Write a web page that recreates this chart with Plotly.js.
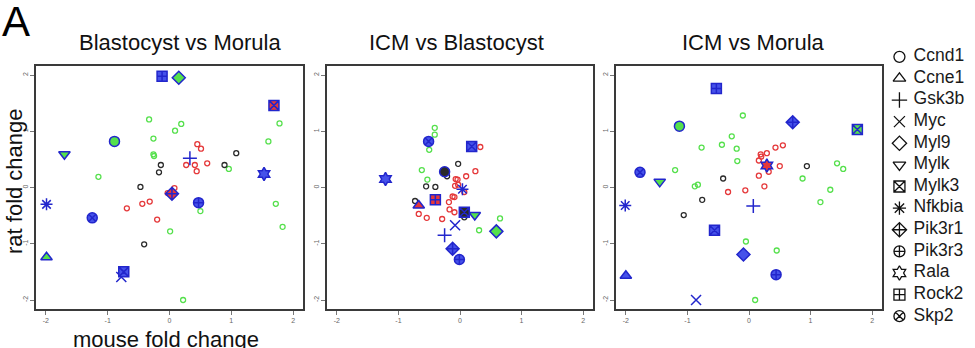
<!DOCTYPE html>
<html><head><meta charset="utf-8">
<script src="https://cdn.plot.ly/plotly-3.0.1.min.js"></script>
<style>html,body{margin:0;padding:0;background:#fff}#c{width:975px;height:348px}</style>
</head><body><div id="c"></div>
<script>
// ---------- data ----------
const panelTitles = ['Blastocyst vs Morula', 'ICM vs Blastocyst', 'ICM vs Morula'];
const tickVals = [-2, -1, 0, 1, 2];
const tickText = ['-2', '-1', '0', '1', '2'];

const genes = ['Ccnd1','Ccne1','Gsk3b','Myc','Myl9','Mylk','Mylk3','Nfkbia','Pik3r1','Pik3r3','Rala','Rock2','Skp2'];
const geneSymbols = ['circle-open','triangle-up-open','cross-thin-open','x-thin-open','diamond-open','triangle-down-open',
  'square-x-open','asterisk-open','diamond-cross-open','circle-cross-open','hexagram-open','square-cross-open','circle-x-open'];
// symbols used for the highlighted (blue) markers inside panels; last entry = unlabelled square
const markSymbols = ['circle','triangle-up','cross-thin-open','x-thin-open','diamond','triangle-down',
  'square-x','asterisk-open','diamond-cross','circle-cross','hexagram','square-cross','circle-x','square-x'];

// Panel 1: Blastocyst vs Morula
const p1GreenX = [-0.33,0.19,0.09,-0.26,-0.26,-0.25,-1.15,1.78,1.60,0.96,1.72,1.83,0.50,0.01,0.22];
const p1GreenY = [1.21,1.13,1.01,0.87,0.59,0.56,0.19,1.14,0.82,0.33,-0.29,-0.70,-0.42,-0.78,-2.00];
const p1RedX = [0.45,0.51,0.27,0.41,0.61,0.44,0.08,-0.03,-0.32,-0.44,-0.69,-0.20];
const p1RedY = [0.77,0.69,0.40,0.40,0.43,0.29,-0.01,-0.10,-0.25,-0.29,-0.37,-0.57];
const p1BlackX = [-0.14,-0.17,-0.47,-0.41,1.08,0.89];
const p1BlackY = [0.40,0.27,0.01,-1.01,0.61,0.40];
const p1MarkX = [-0.89,-1.99,0.33,-0.78,0.15,-1.70,-0.74,-1.99,0.04,0.47,1.53,-0.12,-1.25,1.69];
const p1MarkY = [0.82,-1.24,0.52,-1.59,1.95,0.59,-1.50,-0.30,-0.11,-0.27,0.24,1.98,-0.54,1.46];
const p1MarkFill = ['green','green','blue','blue','green','green','blue','blue','red','blue','blue','blue','blue','red'];

// Panel 2: ICM vs Blastocyst
const p2GreenX = [-0.41,-0.41,-0.50,-0.62,-0.53,0.65,0.31];
const p2GreenY = [1.06,0.94,0.67,0.31,0.14,-0.55,-0.76];
const p2RedX = [0.33,0.25,0.10,-0.07,-0.04,-0.08,-0.03,0.07,-0.12,-0.09,-0.18,-0.17,-0.09,-0.67,-0.54,-0.29];
const p2RedY = [0.72,0.29,0.20,0.15,0.14,0.03,0.05,-0.08,-0.16,-0.17,-0.26,-0.39,-0.44,-0.47,-0.54,-0.56];
const p2BlackX = [-0.03,-0.21,-0.55,-0.40,-0.73,0.07,0.16];
const p2BlackY = [0.42,0.20,0.02,0.01,-0.24,-0.53,0.70];
const p2MarkX = [-0.25,-0.67,-0.25,-0.08,0.59,0.24,0.19,0.04,-0.12,-0.01,-1.21,-0.40,-0.51,0.07];
const p2MarkY = [0.28,-0.32,-0.85,-0.67,-0.78,-0.49,0.73,-0.03,-1.09,-1.28,0.15,-0.22,0.82,-0.44];
const p2MarkFill = ['black','red','blue','blue','green','green','blue','blue','blue','blue','blue','red','blue','black'];

// Panel 3: ICM vs Morula
const p3GreenX = [-0.10,-0.28,-0.44,-0.77,-0.20,-0.19,-1.20,-0.83,-0.88,1.43,1.53,0.87,1.32,1.16,-0.05,0.45,0.10];
const p3GreenY = [1.28,0.91,0.76,0.71,0.69,0.47,0.31,0.05,0.02,0.43,0.33,0.16,-0.04,-0.26,-0.96,-1.12,-2.00];
const p3RedX = [0.55,0.43,0.29,0.19,0.20,0.16,0.50,0.32,0.16,0.25,-0.06,-0.34];
const p3RedY = [0.75,0.71,0.61,0.59,0.55,0.48,0.38,0.28,0.21,0.02,-0.05,-0.08];
const p3BlackX = [-0.42,0.94,-0.76,-1.06];
const p3BlackY = [0.16,0.38,-0.22,-0.49];
const p3MarkX = [-1.13,-2.00,0.07,-0.86,-0.09,-1.45,-0.56,-2.01,0.71,0.44,0.29,-0.53,-1.77,1.76];
const p3MarkY = [1.09,-1.57,-0.33,-2.00,-1.19,0.10,-0.76,-0.32,1.16,-1.55,0.39,1.76,0.27,1.03];
const p3MarkFill = ['green','blue','blue','blue','blue','green','blue','blue','blue','blue','red','blue','blue','green'];

// ---------- styling ----------
const FONT = 'Liberation Sans, Arial, sans-serif';
const COL = {green:'#55e04c', red:'#e5383a', black:'#2a2a2a', blue:'#4652ea'};
const BLUE_LINE = '#2226cc';

const panels = [
  {g:[p1GreenX,p1GreenY], r:[p1RedX,p1RedY], b:[p1BlackX,p1BlackY], m:[p1MarkX,p1MarkY,p1MarkFill]},
  {g:[p2GreenX,p2GreenY], r:[p2RedX,p2RedY], b:[p2BlackX,p2BlackY], m:[p2MarkX,p2MarkY,p2MarkFill]},
  {g:[p3GreenX,p3GreenY], r:[p3RedX,p3RedY], b:[p3BlackX,p3BlackY], m:[p3MarkX,p3MarkY,p3MarkFill]}
];

const traces = [];
panels.forEach((p, i) => {
  const xa = i === 0 ? 'x' : 'x' + (i + 1);
  const ya = i === 0 ? 'y' : 'y' + (i + 1);
  [['g','green'],['r','red'],['b','black']].forEach(([k, c]) => {
    traces.push({type:'scatter', mode:'markers', x:p[k][0], y:p[k][1], xaxis:xa, yaxis:ya,
      showlegend:false, hoverinfo:'skip',
      marker:{symbol:'circle-open', size:5, color:COL[c], line:{width:1.3}}});
  });
  const fills = p.m[2].map(f => COL[f]);
  const cols = markSymbols.map((s, j) => s.endsWith('-open') ? BLUE_LINE : fills[j]);
  traces.push({type:'scatter', mode:'markers', x:p.m[0], y:p.m[1], xaxis:xa, yaxis:ya,
    showlegend:false, hoverinfo:'skip',
    marker:{symbol:markSymbols, size:10, color:cols, line:{color:BLUE_LINE, width:1.5}}});
});

// legend: symbol column and label column
traces.push({type:'scatter', mode:'markers', x:genes.map(() => 0), y:genes, xaxis:'x4', yaxis:'y4',
  showlegend:false, hoverinfo:'skip',
  marker:{symbol:geneSymbols, size:11, color:'#111', line:{width:1.3}}});
traces.push({type:'scatter', mode:'text', x:genes.map(() => 1.5), y:genes, xaxis:'x4', yaxis:'y4',
  showlegend:false, hoverinfo:'skip', text:genes, textposition:'middle right',
  textfont:{family:FONT, size:17.5, color:'#1a1a1a'}});

const H = 348, W = 975;
const yDom = [1 - 309 / H, 1 - 66 / H];
const xDoms = [[36 / W, 303 / W], [327 / W, 593 / W], [616 / W, 882 / W]];

function xAxis(dom, anchor) {
  return {domain:dom, anchor:anchor, range:[-2.16, 2.16], tickvals:tickVals, ticktext:tickText,
    showgrid:false, zeroline:false, showline:true, mirror:true, linecolor:'#3a3a3a', linewidth:1.6,
    ticks:'outside', ticklen:4, tickcolor:'#777', tickwidth:1,
    tickfont:{family:FONT, size:7, color:'#666'}, fixedrange:true};
}
function yAxis(anchor) {
  return {domain:yDom, anchor:anchor, range:[-2.16, 2.16], tickvals:tickVals, ticktext:tickText,
    showgrid:false, zeroline:false, showline:true, mirror:true, linecolor:'#3a3a3a', linewidth:1.6,
    ticks:'outside', ticklen:4, tickcolor:'#777', tickwidth:1, tickangle:-90,
    tickfont:{family:FONT, size:7, color:'#666'}, fixedrange:true};
}

const titleCenters = [180, 456, 753];
const ann = panelTitles.map((t, i) => ({text:t, xref:'paper', yref:'paper', x:titleCenters[i] / W, y:1 - 42 / H,
  xanchor:'center', yanchor:'middle', showarrow:false,
  font:{family:FONT, size:22, color:'#111'}}));
ann.push({text:'A', xref:'paper', yref:'paper', x:0, y:1 - 22 / H, xanchor:'left', yanchor:'middle', showarrow:false,
  font:{family:FONT, size:42, color:'#000'}});
ann.push({text:'rat fold change', xref:'paper', yref:'paper', x:15 / W, y:1 - 181 / H, xanchor:'center', yanchor:'middle',
  textangle:-90, showarrow:false, font:{family:FONT, size:22, color:'#111'}});
ann.push({text:'mouse fold change', xref:'paper', yref:'paper', x:166 / W, y:1 - 339 / H, xanchor:'center', yanchor:'middle',
  showarrow:false, font:{family:FONT, size:22, color:'#111'}});

const layout = {
  width:W, height:H, margin:{l:0, r:0, t:0, b:0}, paper_bgcolor:'#fff', plot_bgcolor:'#fff', showlegend:false,
  xaxis:xAxis(xDoms[0], 'y'), yaxis:yAxis('x'),
  xaxis2:xAxis(xDoms[1], 'y2'), yaxis2:yAxis('x2'),
  xaxis3:xAxis(xDoms[2], 'y3'), yaxis3:yAxis('x3'),
  xaxis4:{domain:[890 / W, 1], anchor:'y4', range:[-1, 8], visible:false, fixedrange:true},
  yaxis4:{domain:[1 - 327 / H, 1 - 46 / H], anchor:'x4', type:'category', categoryorder:'array',
    categoryarray:genes, range:[genes.length - 0.5, -0.5], visible:false, fixedrange:true},
  annotations:ann
};

Plotly.newPlot('c', traces, layout, {displayModeBar:false, staticPlot:true});
</script></body></html>
